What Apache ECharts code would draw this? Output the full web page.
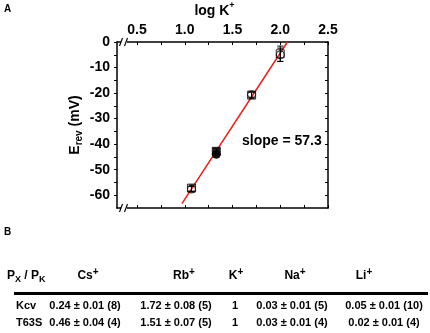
<!DOCTYPE html>
<html><head><meta charset="utf-8">
<script src="https://cdn.jsdelivr.net/npm/echarts@6/dist/echarts.min.js"></script>
<style>html,body{margin:0;padding:0;background:#fff}#c{width:430px;height:333px}</style>
</head><body><div id="c"></div>
<script>
// ---- data ----
const logK = [1.07, 1.33, 1.70, 2.00];
const erevKcv = [-57.2, -42.8, -20.8, -4.6];
const erevT63S = [-57.6, -44.0, -20.6, -5.0];
const errKcv = [1.2, 1.0, 1.2, 3.0];
const errT63S = [1.0, 1.0, 1.0, 2.6];
const filledPoint = [false, true, false, false];
const fitX = [0.97, 2.075];
const fitY = [-63.3, 0];
const slopeText = 'slope = 57.3';
const xLabelValues = [0.5, 1.0, 1.5, 2.0, 2.5];
const xTickValues = [0.5, 0.75, 1.0, 1.25, 1.5, 1.75, 2.0, 2.25, 2.5];
const yLabelValues = [0, -10, -20, -30, -40, -50, -60];
const yTickValues = [0, -5, -10, -15, -20, -25, -30, -35, -40, -45, -50, -55, -60];
const ions = ['Cs', 'Rb', 'K', 'Na', 'Li'];
const rowNames = ['Kcv', 'T63S'];
const kcvValues = ['0.24 ± 0.01 (8)', '1.72 ± 0.08 (5)', '1', '0.03 ± 0.01 (5)', '0.05 ± 0.01 (10)'];
const t63sValues = ['0.46 ± 0.04 (4)', '1.51 ± 0.07 (5)', '1', '0.03 ± 0.01 (4)', '0.02 ± 0.01 (4)'];

// ---- layout ----
const FONT = '"Liberation Sans", Arial, sans-serif';
const headerX = [88, 184, 236, 295, 364];
const valueX = [85, 176, 235, 292, 384];
const rowY = [306, 323];

const chart = echarts.init(document.getElementById('c'), null, {renderer: 'canvas'});

const lbl = {color: '#000', fontFamily: FONT, fontWeight: 'bold', fontSize: 14};

function errSeries(vals, errs) {
  return {
    type: 'custom',
    data: logK.map((x, i) => [x, vals[i], errs[i]]),
    z: 4,
    renderItem: function (params, api) {
      const x = api.value(0), y = api.value(1), e = api.value(2);
      const top = api.coord([x, y + e]);
      const bot = api.coord([x, y - e]);
      const w = 3;
      const st = {stroke: '#000', lineWidth: 1};
      return {type: 'group', children: [
        {type: 'line', shape: {x1: top[0], y1: top[1], x2: bot[0], y2: bot[1]}, style: st},
        {type: 'line', shape: {x1: top[0] - w, y1: top[1], x2: top[0] + w, y2: top[1]}, style: st},
        {type: 'line', shape: {x1: bot[0] - w, y1: bot[1], x2: bot[0] + w, y2: bot[1]}, style: st}
      ]};
    }
  };
}

const graphics = [];
graphics.push({type: 'text', left: 4, top: 4, style: {text: 'A', font: 'bold 10px ' + FONT, fill: '#000'}});
graphics.push({type: 'text', left: 4, top: 227, style: {text: 'B', font: 'bold 10px ' + FONT, fill: '#000'}});
graphics.push({type: 'text', left: 242, top: 134, style: {text: slopeText, font: 'bold 14px ' + FONT, fill: '#000'}});
// axis breaks
[42, 208].forEach(function (yy) {
  graphics.push({type: 'rect', shape: {x: 121, y: yy - 3, width: 6, height: 6}, style: {fill: '#fff'}, z: 100});
  graphics.push({type: 'line', shape: {x1: 119.5, y1: yy + 4, x2: 122.5, y2: yy - 4}, style: {stroke: '#000', lineWidth: 1.2}, z: 101});
  graphics.push({type: 'line', shape: {x1: 124.5, y1: yy + 4, x2: 127.5, y2: yy - 4}, style: {stroke: '#000', lineWidth: 1.2}, z: 101});
});
// table
const richHead = {
  t: {fontFamily: FONT, fontWeight: 'bold', fontSize: 12, color: '#000', lineHeight: 18, verticalAlign: 'middle'},
  sup: {fontFamily: FONT, fontWeight: 'bold', fontSize: 10, color: '#000', lineHeight: 18, padding: [0, 0, 8, 0]},
  sub: {fontFamily: FONT, fontWeight: 'bold', fontSize: 9, color: '#000', lineHeight: 18, padding: [8, 0, 0, 0]}
};
graphics.push({type: 'text', left: 7, top: 267, style: {text: '{t|P}{sub|X}{t| / P}{sub|K}', rich: richHead}});
ions.forEach(function (ion, i) {
  graphics.push({type: 'text', x: headerX[i], y: 276, style: {text: '{t|' + ion + '}{sup|+}', rich: richHead, align: 'center', verticalAlign: 'middle'}});
});
graphics.push({type: 'line', shape: {x1: 14, y1: 293.5, x2: 428, y2: 293.5}, style: {stroke: '#000', lineWidth: 3}});
[kcvValues, t63sValues].forEach(function (vals, r) {
  graphics.push({type: 'text', x: 16, y: rowY[r], style: {text: rowNames[r], font: 'bold 11px ' + FONT, fill: '#000', align: 'left', verticalAlign: 'middle'}});
  vals.forEach(function (v, i) {
    graphics.push({type: 'text', x: valueX[i], y: rowY[r], style: {text: v, font: 'bold 11px ' + FONT, fill: '#000', align: 'center', verticalAlign: 'middle'}});
  });
});

const axLine = {show: true, onZero: false, lineStyle: {color: '#000', width: 1.5}};

chart.setOption({
  animation: false,
  backgroundColor: '#fff',
  grid: {left: 117, right: 102, top: 42, bottom: 125, outerBoundsMode: 'none'},
  xAxis: [
    {type: 'value', position: 'top', min: 0.29, max: 2.5,
     axisLine: axLine,
     axisTick: {show: true, inside: true, length: 3, customValues: xTickValues, lineStyle: {color: '#000', width: 1}},
     axisLabel: Object.assign({customValues: xLabelValues, margin: 5, formatter: v => v.toFixed(1)}, lbl),
     splitLine: {show: false},
     name: '{t|log K}{sup|+}', nameLocation: 'middle', nameGap: 21,
     nameTextStyle: {padding: [0, 16, 0, 0], rich: {
       t: {fontFamily: FONT, fontWeight: 'bold', fontSize: 14, color: '#000', lineHeight: 20},
       sup: {fontFamily: FONT, fontWeight: 'bold', fontSize: 9, color: '#000', lineHeight: 20, padding: [0, 0, 10, 0]}
     }}},
    {type: 'value', position: 'bottom', min: 0.29, max: 2.5,
     axisLine: axLine,
     axisTick: {show: true, inside: true, length: 3, customValues: xTickValues, lineStyle: {color: '#000', width: 1}},
     axisLabel: {show: false}, splitLine: {show: false}}
  ],
  yAxis: [
    {type: 'value', position: 'left', min: -65, max: 0,
     axisLine: axLine,
     axisTick: {show: true, inside: false, length: 3, customValues: yTickValues, lineStyle: {color: '#000', width: 1}},
     axisLabel: Object.assign({customValues: yLabelValues, margin: 7}, lbl),
     splitLine: {show: false},
     name: '{t|E}{sub|rev}{t| (mV)}', nameLocation: 'middle', nameGap: 32, nameRotate: 90,
     nameTextStyle: {rich: {
       t: {fontFamily: FONT, fontWeight: 'bold', fontSize: 14, color: '#000', lineHeight: 20},
       sub: {fontFamily: FONT, fontWeight: 'bold', fontSize: 10, color: '#000', lineHeight: 20, padding: [8, 0, 0, 0]}
     }}},
    {type: 'value', position: 'right', min: -65, max: 0,
     axisLine: axLine,
     axisTick: {show: true, inside: true, length: 3, customValues: yTickValues, lineStyle: {color: '#000', width: 1}},
     axisLabel: {show: false}, splitLine: {show: false}}
  ],
  series: [
    {type: 'line', xAxisIndex: 0, yAxisIndex: 0, data: fitX.map((x, i) => [x, fitY[i]]),
     symbol: 'none', lineStyle: {color: '#e3211c', width: 1.5}, z: 2, silent: true},
    errSeries(erevKcv, errKcv),
    errSeries(erevT63S, errT63S),
    {type: 'scatter', xAxisIndex: 0, yAxisIndex: 0, symbol: 'rect', symbolSize: 8, z: 5,
     data: logK.map((x, i) => ({value: [x, erevKcv[i]], itemStyle: {color: filledPoint[i] ? '#000' : 'rgba(255,255,255,0)'}})),
     itemStyle: {borderColor: '#000', borderWidth: 1}},
    {type: 'scatter', xAxisIndex: 0, yAxisIndex: 0, symbol: 'circle', symbolSize: 8, z: 5,
     data: logK.map((x, i) => ({value: [x, erevT63S[i]], itemStyle: {color: filledPoint[i] ? '#000' : 'rgba(255,255,255,0)'}})),
     itemStyle: {borderColor: '#000', borderWidth: 1}}
  ],
  graphic: graphics
});
</script></body></html>
